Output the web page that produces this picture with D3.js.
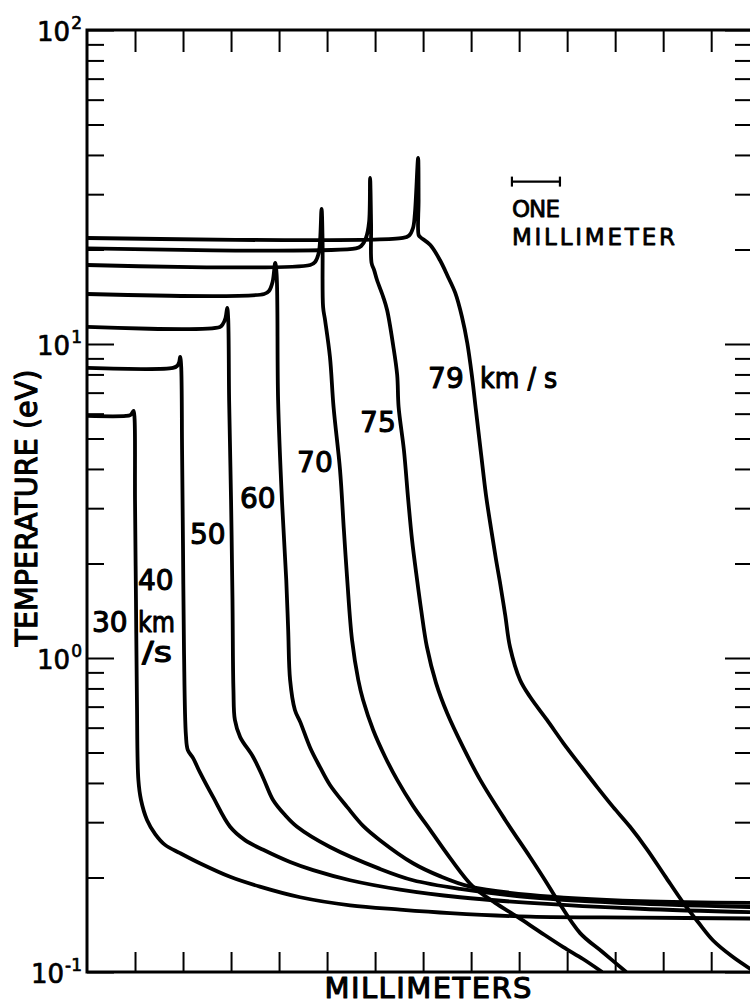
<!DOCTYPE html>
<html>
<head>
<meta charset="utf-8">
<script src="https://cdn.jsdelivr.net/npm/d3@7"></script>
<style>
html, body { margin: 0; padding: 0; background: #fff; }
svg { display: block; }
text { font-family: "DejaVu Sans", sans-serif; fill: #000; }
.lbl { stroke: #000; stroke-width: 1.1px; stroke-linejoin: round; }
</style>
</head>
<body>
<div id="root"><svg></svg></div>
<script>
const width = 750, height = 1005;

// distance (mm), temperature (eV), one list per shock speed
const v30 = [
    [0, 5.90], [0.81, 5.90], [0.90, 5.94], [0.94, 6.03], [0.97, 6.12], [0.99, 5.81],
    [1.00, 3.19], [1.02, 1.53], [1.04, 0.735], [1.07, 0.409], [1.125, 0.353], [1.25, 0.305],
    [1.42, 0.275], [1.625, 0.254], [1.94, 0.239], [2.35, 0.222], [2.98, 0.201], [3.60, 0.187],
    [4.44, 0.173], [5.48, 0.163], [6.52, 0.158], [7.56, 0.154], [9.23, 0.150], [11.52, 0.149], [13.85, 0.148]
];
const v40 = [
    [0, 8.39], [1.79, 8.39], [1.875, 8.51], [1.92, 8.76], [1.94, 9.09], [1.96, 8.57],
    [1.98, 4.60], [2.00, 2.21], [2.02, 1.06], [2.06, 0.568], [2.10, 0.509], [2.21, 0.480],
    [2.35, 0.433], [2.625, 0.361], [2.98, 0.290], [3.29, 0.263], [3.67, 0.245], [4.23, 0.224],
    [4.71, 0.211], [5.48, 0.196], [6.52, 0.183], [7.77, 0.173], [9.23, 0.166], [11.52, 0.159], [13.85, 0.155]
];
const v50 = [
    [0, 11.33], [2.77, 11.33], [2.83, 11.58], [2.885, 12.10], [2.92, 13.02], [2.94, 12.10],
    [2.96, 6.63], [3.00, 3.19], [3.03, 1.53], [3.05, 0.791], [3.08, 0.635], [3.19, 0.560],
    [3.46, 0.484], [3.67, 0.415], [3.875, 0.353], [4.125, 0.316], [4.375, 0.290], [5.06, 0.250],
    [6.10, 0.213], [6.79, 0.196], [7.77, 0.184], [9.23, 0.173], [11.52, 0.165], [13.85, 0.161]
];
const v60 = [
    [0, 14.43], [3.69, 14.43], [3.79, 14.75], [3.865, 15.76], [3.92, 18.11], [3.95, 16.58],
    [3.98, 6.63], [4.06, 3.19], [4.15, 1.772], [4.19, 1.228], [4.23, 0.851], [4.33, 0.683],
    [4.44, 0.626], [4.65, 0.517], [4.85, 0.450], [5.06, 0.394], [5.42, 0.335], [5.75, 0.292],
    [6.10, 0.263], [6.79, 0.222], [7.35, 0.202], [7.98, 0.187], [9.23, 0.176], [11.52, 0.168], [13.85, 0.166]
];
const v70 = [
    [0, 17.85], [4.65, 17.85], [4.75, 18.25], [4.83, 19.63], [4.885, 26.91], [4.906, 21.44],
    [4.917, 13.12], [4.958, 11.92], [5.06, 9.09], [5.135, 6.30], [5.27, 3.97], [5.35, 2.557],
    [5.42, 1.772], [5.52, 1.141], [5.65, 0.851], [5.75, 0.735], [5.96, 0.590], [6.21, 0.484],
    [6.46, 0.409], [6.79, 0.338], [7.15, 0.283], [7.56, 0.231], [8.04, 0.187], [8.50, 0.166],
    [8.96, 0.150], [9.44, 0.134], [9.92, 0.120], [10.33, 0.110], [10.73, 0.100]
];
const v75 = [
    [0, 20.15], [5.60, 20.15], [5.71, 20.52], [5.81, 21.76], [5.875, 24.46], [5.896, 33.79],
    [5.917, 23.93], [5.927, 18.11], [5.98, 17.2], [6.04, 15.99], [6.17, 14.11], [6.25, 12.83],
    [6.375, 9.93], [6.46, 7.97], [6.49, 6.30], [6.60, 4.60], [6.69, 3.19], [6.77, 2.375],
    [6.875, 1.772], [6.96, 1.422], [7.08, 1.084], [7.27, 0.832], [7.50, 0.668], [7.83, 0.521],
    [8.19, 0.409], [8.71, 0.305], [9.23, 0.232], [9.54, 0.196], [9.79, 0.170], [10.27, 0.133],
    [10.73, 0.116], [11.23, 0.100]
];
const v79 = [
    [0, 21.76], [6.58, 21.76], [6.71, 22.16], [6.79, 23.41], [6.83, 26.14], [6.896, 39.13],
    [6.906, 28.75], [6.907, 22.24], [6.94, 21.92], [7.15, 20.67], [7.35, 18.51], [7.52, 16.35],
    [7.67, 14.54], [7.81, 12.19], [7.92, 10.07], [8.02, 7.85], [8.10, 6.16], [8.21, 4.43],
    [8.31, 3.30], [8.42, 2.557], [8.52, 2.052], [8.60, 1.746], [8.71, 1.371], [8.81, 1.084],
    [9.02, 0.851], [9.23, 0.751], [9.58, 0.635], [9.92, 0.536], [10.27, 0.456], [10.625, 0.388],
    [10.96, 0.335], [11.31, 0.290], [11.67, 0.245], [12.04, 0.202], [12.42, 0.166], [12.73, 0.144],
    [13.04, 0.126], [13.44, 0.112], [13.85, 0.1015]
];
const curves = [v30, v40, v50, v60, v70, v75, v79];

// curve labels: text, left edge (mm), baseline (eV)
const labels = [
    ['30', 0.104, 1.21], ['km', 1.0625, 1.21], ['/s', 1.146, 0.971],
    ['40', 1.0625, 1.647], ['50', 2.146, 2.307], ['60', 3.1875, 3.004],
    ['70', 4.375, 3.91], ['75', 5.6875, 5.245], ['79', 7.104, 7.24], ['km / s', 8.1875, 7.24]
];
const labelLen = { 'km': 37, '/s': 30, 'km / s': 77 };

const xTicks = d3.range(1, 14);            // one tick per millimeter
const yMajor = [0.1, 1, 10, 100];
const yExp = ['-1', '0', '1', '2'];
const scaleBar = { start: 8.85, length: 1, temp: 32.9 };

const x = d3.scaleLinear().domain([0, 13.85]).range([87, 752]);
const y = d3.scaleLog().domain([0.1, 100]).range([972, 30]);
const isMajor = v => Math.abs(Math.log10(v) - Math.round(Math.log10(v))) < 1e-9;
const yMinor = y.ticks().filter(v => !isMajor(v));

const svg = d3.select('#root').select('svg')
    .attr('width', width)
    .attr('height', height);

svg.append('defs').append('clipPath').attr('id', 'plot')
    .append('rect')
    .attr('x', 87).attr('y', 30)
    .attr('width', 752 - 87).attr('height', 972 - 30);

function styleTicks(g) {
    g.select('.domain').remove();
    g.selectAll('.tick line').attr('stroke', '#000').attr('stroke-width', 2);
}

// ticks on all four sides, pointing inward
svg.append('g').attr('transform', 'translate(0,972)')
    .call(d3.axisBottom(x).tickValues(xTicks).tickSizeInner(-20).tickSizeOuter(0).tickFormat(''))
    .call(styleTicks);
svg.append('g').attr('transform', 'translate(0,30)')
    .call(d3.axisTop(x).tickValues(xTicks).tickSizeInner(-22).tickSizeOuter(0).tickFormat(''))
    .call(styleTicks);
svg.append('g').attr('transform', 'translate(87,0)')
    .call(d3.axisLeft(y).tickValues(yMinor).tickSizeInner(-17).tickSizeOuter(0).tickFormat(''))
    .call(styleTicks);
const gMajor = svg.append('g').attr('transform', 'translate(87,0)')
    .call(d3.axisLeft(y).tickValues(yMajor).tickSizeInner(-27).tickSizeOuter(0).tickFormat(''))
    .call(styleTicks);
svg.append('g').attr('transform', 'translate(752,0)')
    .call(d3.axisRight(y).tickValues(yMinor).tickSizeInner(-17).tickSizeOuter(0).tickFormat(''))
    .call(styleTicks);
svg.append('g').attr('transform', 'translate(752,0)')
    .call(d3.axisRight(y).tickValues(yMajor).tickSizeInner(-27).tickSizeOuter(0).tickFormat(''))
    .call(styleTicks);

// 10^n labels
const expText = gMajor.selectAll('.tick').append('text')
    .attr('class', 'lbl')
    .attr('x', -5)
    .attr('y', 10)
    .attr('text-anchor', 'end')
    .attr('font-size', 26)
    .style('stroke-width', '0.7px');
expText.append('tspan').text('10');
expText.append('tspan')
    .attr('font-size', 17)
    .attr('dy', -12)
    .attr('dx', 1)
    .text((d, i) => yExp[i]);

// frame
svg.append('rect')
    .attr('x', 87).attr('y', 30)
    .attr('width', 752 - 87).attr('height', 972 - 30)
    .attr('fill', 'none')
    .attr('stroke', '#000')
    .attr('stroke-width', 3);

const line = d3.line()
    .x(d => x(d[0]))
    .y(d => y(d[1]))
    .curve(d3.curveCatmullRom.alpha(0.5));

svg.append('g').attr('clip-path', 'url(#plot)')
    .selectAll('path')
    .data(curves)
    .enter()
    .append('path')
    .attr('d', line)
    .attr('fill', 'none')
    .attr('stroke', '#000')
    .attr('stroke-width', 3.8)
    .attr('stroke-linejoin', 'round');

svg.append('g')
    .selectAll('text')
    .data(labels)
    .enter()
    .append('text')
    .attr('class', 'lbl')
    .attr('x', d => x(d[1]))
    .attr('y', d => y(d[2]))
    .attr('font-size', 28)
    .each(function(d) {
        if (labelLen[d[0]]) {
            d3.select(this).attr('textLength', labelLen[d[0]]).attr('lengthAdjust', 'spacingAndGlyphs');
        }
    })
    .text(d => d[0]);

// one millimeter scale bar
const barY = y(scaleBar.temp);
const bar = svg.append('g').attr('stroke', '#000').attr('stroke-width', 2.2);
bar.append('line')
    .attr('x1', x(scaleBar.start)).attr('x2', x(scaleBar.start + scaleBar.length))
    .attr('y1', barY).attr('y2', barY);
[scaleBar.start, scaleBar.start + scaleBar.length].forEach(v => {
    bar.append('line')
        .attr('x1', x(v)).attr('x2', x(v))
        .attr('y1', barY - 5).attr('y2', barY + 5);
});
svg.append('text').attr('class', 'lbl')
    .attr('x', x(scaleBar.start)).attr('y', barY + 35)
    .attr('font-size', 23)
    .style('stroke-width', '0.8px')
    .attr('textLength', 48)
    .text('ONE');
svg.append('text').attr('class', 'lbl')
    .attr('x', x(scaleBar.start)).attr('y', barY + 63)
    .attr('font-size', 23)
    .style('stroke-width', '0.8px')
    .attr('textLength', 163)
    .text('MILLIMETER');

// axis titles
svg.append('text').attr('class', 'lbl')
    .attr('x', 428).attr('y', 998)
    .attr('text-anchor', 'middle')
    .attr('font-size', 29)
    .attr('textLength', 207)
    .text('MILLIMETERS');
svg.append('text').attr('class', 'lbl')
    .attr('transform', 'translate(37,508) rotate(-90)')
    .attr('text-anchor', 'middle')
    .attr('font-size', 30)
    .attr('textLength', 277)
    .attr('lengthAdjust', 'spacingAndGlyphs')
    .text('TEMPERATURE (eV)');
</script>
</body>
</html>
